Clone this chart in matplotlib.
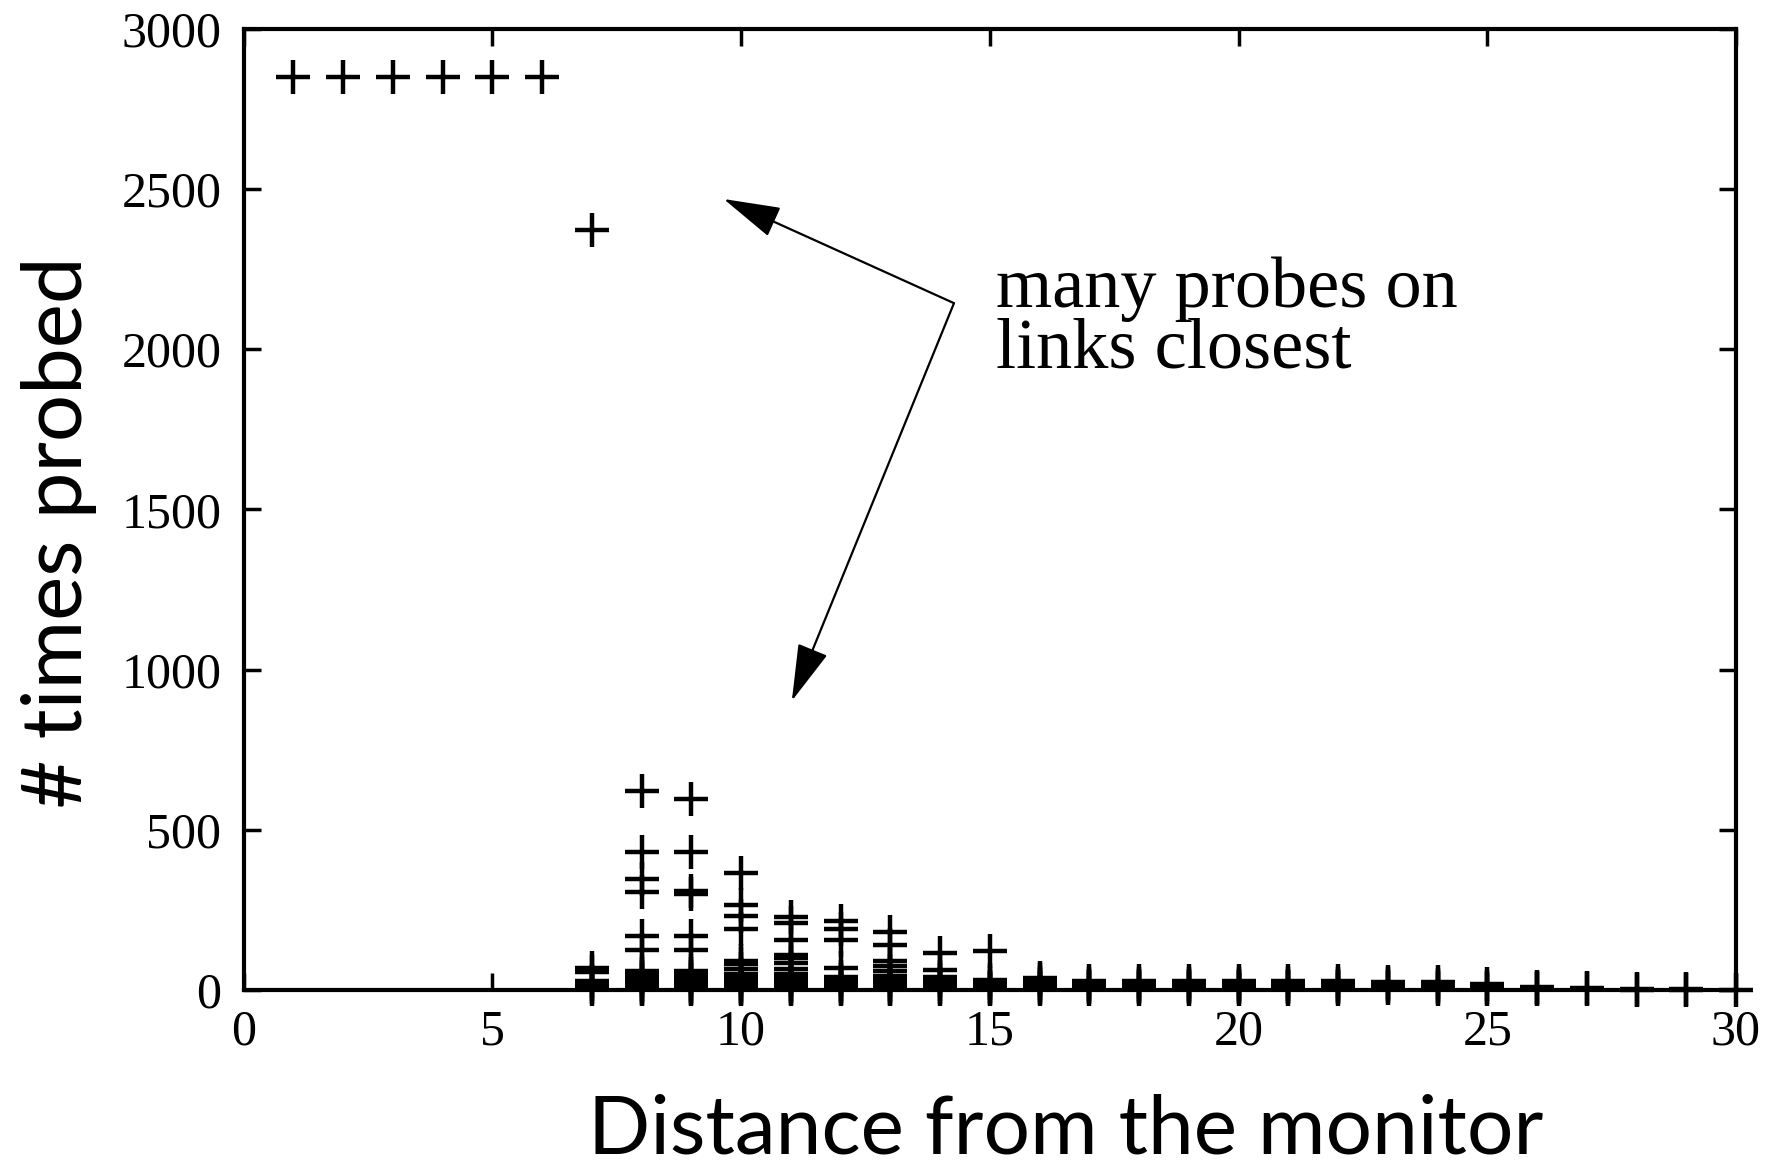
import numpy as np
import matplotlib
matplotlib.use("Agg")
import matplotlib.pyplot as plt

# distance from the monitor (hops) and how often each link at that distance was probed
dist = [1, 2, 3, 4, 5, 6, 7, 8, 9, 10, 11, 12, 13, 14, 15,
        16, 17, 18, 19, 20, 21, 22, 23, 24, 25, 26, 27, 28, 29, 30]
probes = [
    [2850],
    [2850],
    [2850],
    [2850],
    [2850],
    [2850],
    [2370, 68, 55, 28, 18, 8, 3],
    [620, 430, 345, 305, 170, 125, 60, 50, 40, 30, 20, 12, 6, 2],
    [595, 430, 310, 300, 170, 125, 60, 50, 40, 30, 20, 12, 6, 2],
    [365, 265, 230, 190, 92, 80, 65, 50, 40, 30, 20, 12, 6, 2],
    [228, 210, 155, 110, 100, 85, 65, 50, 40, 30, 20, 12, 6, 2],
    [214, 190, 155, 68, 40, 30, 20, 12, 6, 2],
    [181, 140, 90, 75, 60, 45, 30, 20, 12, 6, 2],
    [117, 62, 42, 30, 20, 10, 3],
    [122, 30, 22, 14, 7, 2],
    [36, 30, 22, 15, 8, 3],
    [27, 20, 14, 8, 3],
    [27, 20, 14, 8, 3],
    [27, 20, 14, 8, 3],
    [27, 20, 14, 8, 3],
    [27, 20, 14, 8, 3],
    [27, 20, 14, 8, 3],
    [26, 19, 12, 5],
    [24, 16, 8, 3],
    [18, 10, 4],
    [10, 5, 2],
    [6, 2],
    [3, 1],
    [3, 1],
    [1],
]

xs = np.concatenate([[d] * len(p) for d, p in zip(dist, probes)])
ys = np.concatenate(probes)

serif = ["Liberation Serif", "DejaVu Serif"]

fig = plt.figure(figsize=(17.74, 11.71), dpi=100)
ax = fig.add_axes([243.6 / 1774, 1 - 990 / 1171, 1492.4 / 1774, 961.5 / 1171])

ax.plot(xs, ys, linestyle="none", marker="+", markersize=24, markeredgewidth=3.2,
        color="black", clip_on=False, zorder=3)

ax.set_xlim(0, 30)
ax.set_ylim(0, 3000)
ax.set_xticks(np.arange(0, 31, 5))
ax.set_yticks(np.arange(0, 3001, 500))
ax.tick_params(direction="in", length=12, width=2.5, top=True, right=True,
               labelsize=36)
ax.tick_params(axis="x", pad=14)
ax.tick_params(axis="y", pad=16)
for lab in ax.get_xticklabels() + ax.get_yticklabels():
    lab.set_family(serif)
for s in ax.spines.values():
    s.set_linewidth(3)

# annotation: two arrows from one point
tail = (14.28, 2143)
arrow = dict(arrowstyle="-|>,head_length=1.8,head_width=0.5", mutation_scale=20,
             lw=1.6, color="black", shrinkA=0, shrinkB=0)
ax.annotate("", xy=(9.65, 2468), xytext=tail, arrowprops=arrow)
ax.annotate("", xy=(11.02, 902), xytext=tail, arrowprops=arrow)
ax.text(15.12, 2290, "many probes on\nlinks closest", family=serif, fontsize=52,
        ha="left", va="top", linespacing=0.92)

fig.text(1066 / 1774, 1 - 1153 / 1171, "Distance from the monitor", family="Lato",
         fontsize=59, ha="center", va="baseline")
fig.text(82 / 1774, 1 - 532 / 1171, "# times probed", family="Lato", fontsize=60,
         rotation=90, rotation_mode="anchor", ha="center", va="baseline")

fig.savefig("out.png", dpi=100)
